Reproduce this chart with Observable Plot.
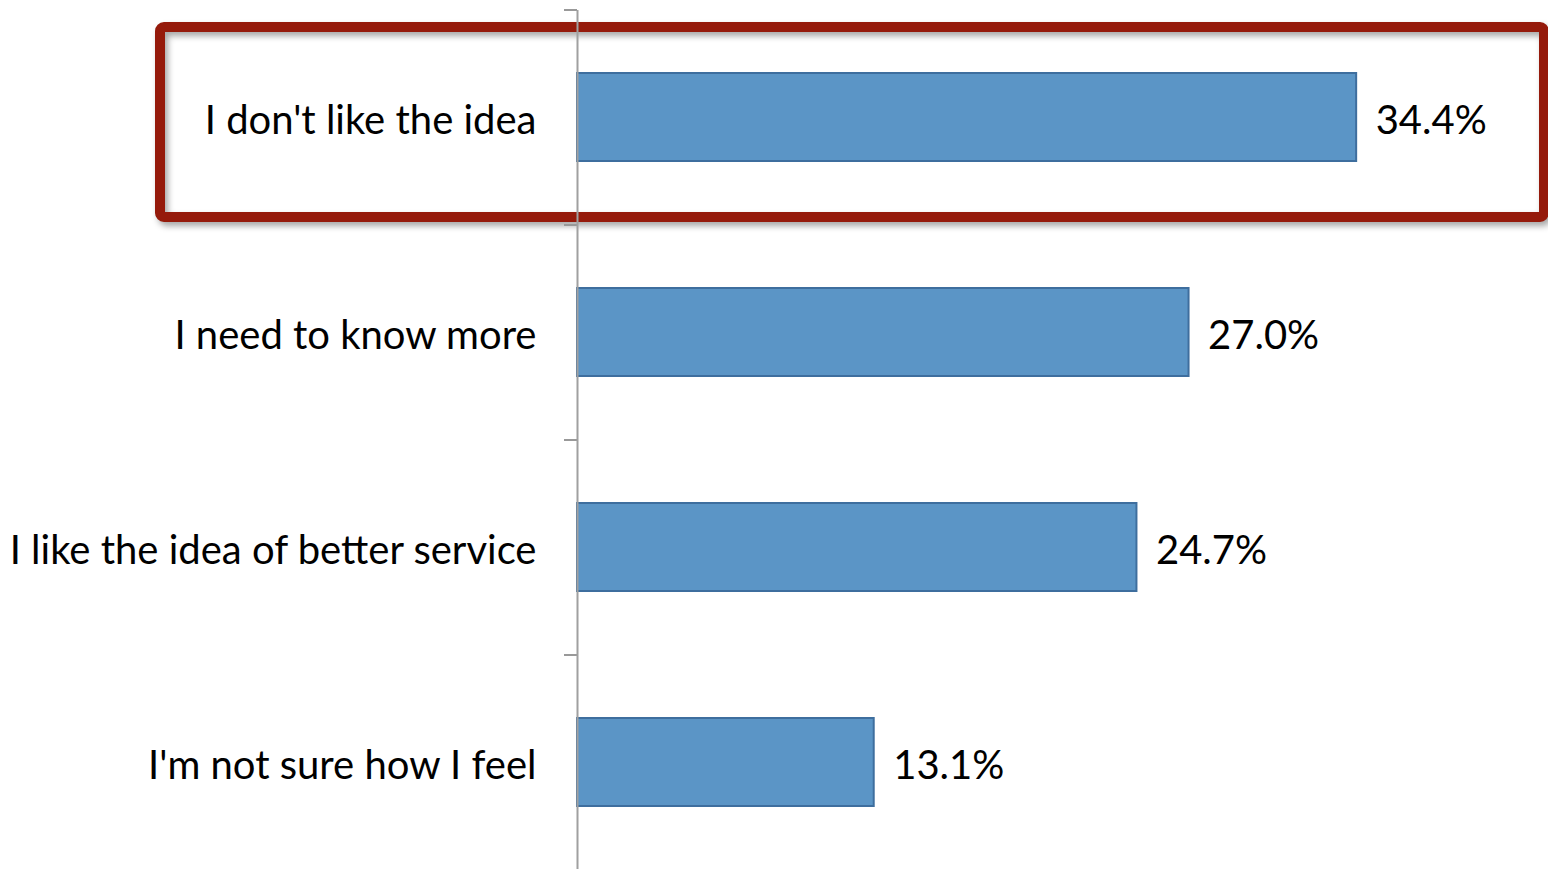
<!DOCTYPE html>
<html>
<head>
<meta charset="utf-8">
<script src="https://cdn.jsdelivr.net/npm/d3@7"></script>
<script src="https://cdn.jsdelivr.net/npm/@observablehq/plot@0.6"></script>
<style>
  html, body { margin: 0; padding: 0; background: #fff; }
  #chart { width: 1548px; height: 869px; overflow: hidden; }
</style>
</head>
<body>
<div id="chart"></div>
<script>
const categories = ["I don't like the idea", "I need to know more", "I like the idea of better service", "I'm not sure how I feel"];
const values = [34.4, 27.0, 24.7, 13.1];
const highlighted = ["I don't like the idea"];

const data = categories.map((c, i) => ({category: c, value: values[i]}));

const FONT = "Lato, 'Open Sans', sans-serif";

const plot = Plot.plot({
  width: 1548,
  height: 869,
  marginLeft: 577,
  marginRight: 0,
  marginTop: 10,
  marginBottom: 0,
  style: {background: "#fff", fontFamily: FONT, fontSize: "40px", color: "#000", overflow: "visible"},
  x: {domain: [0, 40], range: [577, 1483], axis: null},
  y: {domain: categories, range: [10, 870], paddingInner: 0.59, paddingOuter: 0.295, label: null},
  marks: [
    Plot.barX(data, {y: "category", x: "value", fill: "#5b95c6", stroke: "#3e6e9e", strokeWidth: 2}),
    Plot.barX(data.filter(d => highlighted.includes(d.category)), {
      y: "category", x1: 0, x2: 40,
      insetLeft: -417, insetRight: -61, insetTop: -46, insetBottom: -56,
      rx: 4, fill: "none", stroke: "#951a0b", strokeWidth: 10
    }),
    Plot.text(data, {y: "category", x: "value", text: d => d.value.toFixed(1) + "%", textAnchor: "start", dx: 19, dy: 4, fill: "#000", fontSize: 40}),
    Plot.axisY({tickSize: 0, tickPadding: 41, fontSize: 40, fill: "#000", dy: 4}),
    Plot.axisY({tickSize: 13, text: null, stroke: "#999", strokeWidth: 2, dy: -107.5}),
    Plot.ruleX([0], {stroke: "#a0a0a0", strokeWidth: 2})
  ]
});

d3.select(plot).selectAll('g[aria-label="bar"]').filter((d, i) => i === 1)
  .style("filter", "drop-shadow(3px 4px 3px rgba(0,0,0,0.35))");

document.getElementById("chart").appendChild(plot);
</script>
</body>
</html>
